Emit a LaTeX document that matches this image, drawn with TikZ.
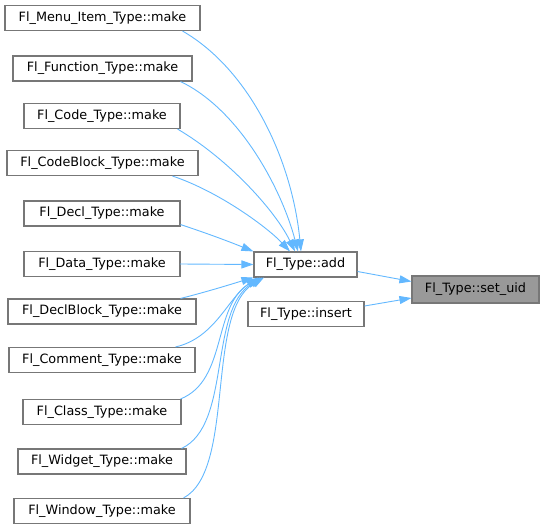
\documentclass[tikz,border=0pt]{standalone}
\usepackage{fontspec}
\setmainfont{DejaVu Sans}
\usetikzlibrary{arrows.meta}
\definecolor{edgeblue}{HTML}{63B8FF}
\definecolor{boxgray}{HTML}{777777}
\definecolor{fillgray}{HTML}{999999}
\begin{document}
\begin{tikzpicture}[x=1pt,y=-1pt,
  fn/.style={draw=boxgray,line width=1.1pt,fill=white,rectangle,inner sep=0pt,minimum height=25pt,font=\fontsize{12.8pt}{14pt}\selectfont},
  cur/.style={fn,fill=fillgray},
  call/.style={draw=edgeblue,line width=0.9pt,-{Triangle[length=12pt,width=8pt]}}]
\useasboundingbox (0,0) rectangle (544,529);
\node[fn,minimum width=195pt] (menu) at (102.5,18) {Fl\_Menu\_Item\_Type::make};
\node[fn,minimum width=179pt] (func) at (102.5,68.5) {Fl\_Function\_Type::make};
\node[fn,minimum width=156pt] (code) at (102,116) {Fl\_Code\_Type::make};
\node[fn,minimum width=191pt] (cblock) at (102.5,163) {Fl\_CodeBlock\_Type::make};
\node[fn,minimum width=156pt] (decl) at (102,213.5) {Fl\_Decl\_Type::make};
\node[fn,minimum width=156pt] (data) at (102,264) {Fl\_Data\_Type::make};
\node[fn,minimum width=188pt] (dblock) at (102,311.5) {Fl\_DeclBlock\_Type::make};
\node[fn,minimum width=186pt] (comment) at (102,360) {Fl\_Comment\_Type::make};
\node[fn,minimum width=158pt] (class) at (102,412) {Fl\_Class\_Type::make};
\node[fn,minimum width=168pt] (widget) at (102,461.5) {Fl\_Widget\_Type::make};
\node[fn,minimum width=176pt] (window) at (102,511) {Fl\_Window\_Type::make};
\node[fn,minimum width=103pt] (add) at (305.5,264.5) {Fl\_Type::add};
\node[fn,minimum width=116pt] (insert) at (306,314) {Fl\_Type::insert};
\node[cur,minimum width=127pt,minimum height=27pt] (setuid) at (475.5,289.5) {Fl\_Type::set\_uid};
% edges into add
\draw[call] (menu.south east) ++(-18,0) .. controls (250,70) and (292,160) .. (add.north -| 301,0);
\draw[call] (func.south east) ++(-12,0) .. controls (240,110) and (282,190) .. (add.north -| 298,0);
\draw[call] (code.south east) ++(-3,0) .. controls (230,160) and (276,212) .. (add.north -| 295,0);
\draw[call] (cblock.south east) ++(-26,0) .. controls (220,192) and (268,228) .. (add.north -| 290,0);
\draw[call] (decl.south east) ++(0,-2) .. controls (215,236) and (235,244) .. (add.north west);
\draw[call] (data) ++(78,0) -- (add.west);
\draw[call] (dblock.north east) ++(-16,0) .. controls (210,291) and (235,283) .. (add.south west);
\draw[call] (comment.north east) ++(-20,0) .. controls (215,338) and (228,298) .. (add.south west -| 258,0);
\draw[call] (class.north east) ++(-1,0) .. controls (228,380) and (212,305) .. (add.south west -| 260,0);
\draw[call] (widget.north east) ++(-5,0) .. controls (232,425) and (208,310) .. (add.south west -| 262,0);
\draw[call] (window.north east) ++(-7,0) .. controls (236,470) and (205,312) .. (add.south west -| 264,0);
% edges into set_uid
\draw[call] (add.east) ++(0,7) -- (setuid.west |- 0,281.5);
\draw[call] (insert.east) ++(0,-8) -- (setuid.west |- 0,298);
\end{tikzpicture}
\end{document}
